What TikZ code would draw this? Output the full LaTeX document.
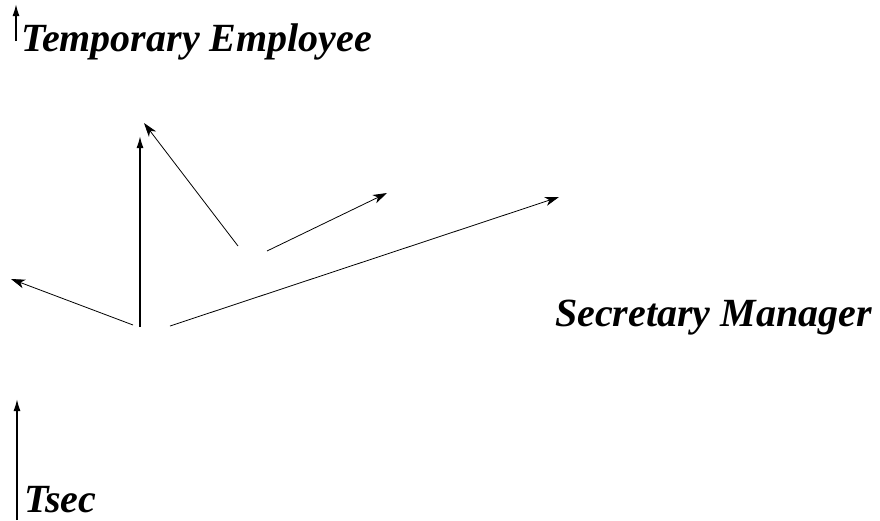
\documentclass[tikz,border=0pt]{standalone}
\usepackage{fontspec}
\setmainfont{Liberation Serif}
\usetikzlibrary{arrows.meta,positioning}
\tikzstyle{classname} = [draw=none, fill=none, inner sep=0pt, anchor=base west, font=\bfseries\itshape\fontsize{40}{44}\selectfont]
\tikzstyle{tedge}  = [draw, line width=0.8pt, -{Stealth[length=14pt, width=9pt, inset=4pt]}]
\tikzstyle{tstem}  = [draw, line width=1.6pt, -{Latex[length=12pt, width=7pt]}]
\begin{document}
\begin{tikzpicture}[x=1pt,y=-1pt]
\useasboundingbox (0,0) rectangle (880,520);

% class names =============================
\node[classname] (temp) at (21,51) {Temporary Employee};
\node[classname] (secmgr) at (555,326) {Secretary Manager};
\node[classname] (tsec) at (24,512) {Tsec};

% end points
\coordinate (tempbot) at (16,41);
\coordinate (temptop) at (16,4);
\coordinate (tsecbot) at (17,520);
\coordinate (tsectop) at (17,399);
\coordinate (hub) at (140,327);
\coordinate (hubtop) at (140,136);
\coordinate (midA) at (238,246);
\coordinate (midAtip) at (144,123);
\coordinate (midB) at (267,251);
\coordinate (midBtip) at (387,193);
\coordinate (hubR) at (170,326);
\coordinate (hubRtip) at (559,197);
\coordinate (hubL) at (133,325);
\coordinate (hubLtip) at (11,279);

%edges
\path[tstem] (tempbot) -- (temptop);
\path[tstem] (tsecbot) -- (tsectop);
\path[tstem] (hub) -- (hubtop);

\path[tedge] (midA) -- (midAtip);
\path[tedge] (midB) -- (midBtip);
\path[tedge] (hubR) -- (hubRtip);
\path[tedge] (hubL) -- (hubLtip);

\end{tikzpicture}
\end{document}
